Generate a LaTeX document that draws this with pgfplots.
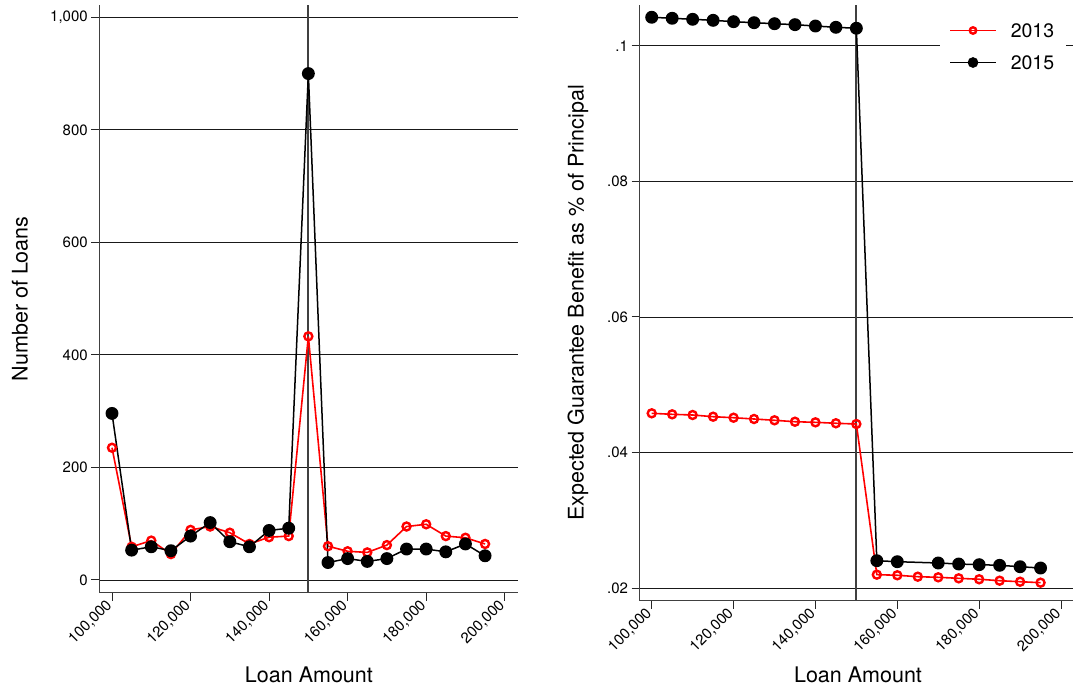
\documentclass[border=0pt]{standalone}
\usepackage{fontspec}
\setmainfont{TeX Gyre Heros}
\usepackage{pgfplots}
\pgfplotsset{compat=1.18}
\definecolor{sred}{RGB}{255,0,0}
\newcommand{\tlfont}{\fontsize{15}{18}\selectfont}
\begin{document}
\begin{tikzpicture}[x=1pt,y=1pt]
\useasboundingbox (0,0) rectangle (1076,692);
\pgfplotsset{
 mystyle/.style={
  scale only axis,
  axis x line*=bottom, axis y line*=left,
  axis line style={-, draw=black!75, line width=1.3pt},
  tick align=outside, major tick length=8pt,
  tick style={black!85, line width=1pt},
  xtick={100000,120000,140000,160000,180000,200000},
  xticklabels={{100,000},{120,000},{140,000},{160,000},{180,000},{200,000}},
  tick label style={font=\tlfont},
  xticklabel style={rotate=45, anchor=east},
  ymajorgrids, grid style={black!90, line width=0.9pt},
  label style={font=\fontsize{21.5}{25}\selectfont},
  scaled ticks=false,
 },
 s13/.style={sred, line width=1.6pt, mark=o, mark size=4pt, mark options={line width=2.4pt, solid}},
 s15/.style={black, line width=1.5pt, mark=*, mark size=5.7pt},
 vline/.style={black!75, line width=2pt, forget plot},
}
% ---------------- left panel
\begin{axis}[mystyle,
  at={(99.3pt,99.3pt)}, anchor=south west,
  width=418.4pt, height=587.7pt,
  xmin=96766, xmax=203310, ymin=-22.6, ymax=1021.9,
  ytick={0,200,400,600,800,1000},
  yticklabels={0,200,400,600,800,{1,000}},
  xlabel={Loan Amount}, ylabel={Number of Loans},
  xlabel style={at={(axis description cs:0.501,-0.140)}, anchor=center},
  ylabel style={at={(axis description cs:-0.1895,0.5)}, anchor=center},
]
\addplot[vline] coordinates {(150000,-22.6) (150000,1021.9)};
\addplot[s13] table {
100000 235
105000 59
110000 70
115000 46
120000 89
125000 95
130000 84
135000 64
140000 76
145000 78
150000 433
155000 60
160000 51
165000 49
170000 62
175000 95
180000 99
185000 78
190000 75
195000 64
};
\addplot[s15] table {
100000 296
105000 53
110000 59
115000 52
120000 78
125000 102
130000 68
135000 59
140000 88
145000 92
150000 900
155000 31
160000 38
165000 33
170000 38
175000 55
180000 55
185000 50
190000 64
195000 43
};
\end{axis}
% ---------------- right panel
\begin{axis}[mystyle,
  at={(639.5pt,91.3pt)}, anchor=south west,
  width=433.8pt, height=595.7pt,
  xmin=97019, xmax=203000, ymin=0.018172, ymax=0.106,
  ytick={0.02,0.04,0.06,0.08,0.1},
  yticklabels={.02,.04,.06,.08,.1},
  xlabel={Loan Amount}, ylabel={Expected Guarantee Benefit as \% of Principal},
  xlabel style={at={(axis description cs:0.5037,-0.1247)}, anchor=center},
  ylabel style={at={(axis description cs:-0.1418,0.5)}, anchor=center},
  legend style={at={(0.6927,0.981)}, anchor=north west, draw=none, fill=white,
    font=\fontsize{19.5}{22}\selectfont, inner xsep=9pt, inner ysep=4pt,
    row sep=12pt, column sep=11pt, nodes={inner sep=3pt, text height=14pt, text depth=0pt}},
  legend cell align=left,
  legend image code/.code={\draw[mark repeat=2,mark phase=2,every mark/.append style={scale=0.8}] plot coordinates {(0pt,0pt) (23pt,0pt) (46pt,0pt)};},
]
\addplot[vline] coordinates {(150000,0.018172) (150000,0.106)};
\addplot[s13] table {
100000 0.04580
105000 0.04565
110000 0.04555
115000 0.04530
120000 0.04515
125000 0.04496
130000 0.04477
135000 0.04456
140000 0.04447
145000 0.04433
150000 0.04422
155000 0.02201
160000 0.02192
165000 0.02171
170000 0.02162
175000 0.02147
180000 0.02133
185000 0.02112
190000 0.02097
195000 0.02083
};
\addlegendentry{2013}
\addplot[s15] table {
100000 0.10419
105000 0.10404
110000 0.10389
115000 0.10374
120000 0.10354
125000 0.10339
130000 0.10324
135000 0.10310
140000 0.10290
145000 0.10271
150000 0.10257
155000 0.02407
160000 0.02392
170000 0.02373
175000 0.02358
180000 0.02348
185000 0.02339
190000 0.02318
195000 0.02299
};
\addlegendentry{2015}
\end{axis}
\end{tikzpicture}
\end{document}
